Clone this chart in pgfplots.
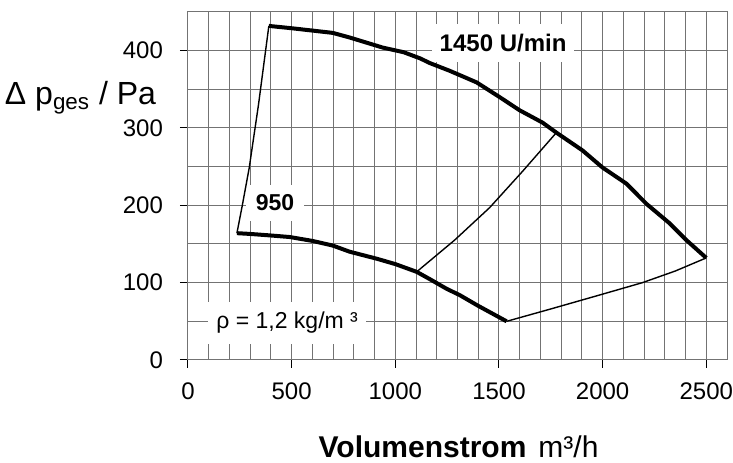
\documentclass[border=0pt]{standalone}
\usepackage{fontspec}
\setmainfont{Liberation Sans}
\usepackage{pgfplots}
\pgfplotsset{compat=1.18}

\begin{document}
\begin{tikzpicture}
\begin{axis}[
  name=ax,
  scale only axis,
  width=269.5pt, height=174pt,
  xmin=0, xmax=2600, ymin=0, ymax=450,
  xtick={0,500,...,2500}, ytick={0,100,...,400},
  minor x tick num=4, minor y tick num=1,
  grid=both,
  major grid style={black!55, line width=0.5pt},
  minor grid style={black!55, line width=0.5pt},
  axis line style={black!55, line width=0.5pt},
  tick style={black, line width=0.5pt},
  major tick length=4pt, minor tick length=0pt,
  tick align=outside,
  xtick pos=left, ytick pos=left,
  /pgf/number format/assume math mode=true,
  /pgf/number format/1000 sep={},
  ticklabel style={font=\fontsize{12}{14}\selectfont},
  xticklabel style={yshift=-4pt},
  yticklabel style={xshift=-5pt},
  clip=false,
]
% labels with white boxes
\node[fill=white, inner xsep=5pt, inner ysep=5pt,
      font=\bfseries\fontsize{11.5}{13}\selectfont] at (axis cs:420,203) {950};
\node[fill=white, inner xsep=4pt, inner ysep=5pt,
      font=\bfseries\fontsize{12}{14}\selectfont] at (axis cs:1520,410) {1450 U/min};
\node[fill=white, inner xsep=4pt, inner ysep=5pt,
      font=\fontsize{11.5}{13}\selectfont] at (axis cs:478,48) {ρ = 1,2 kg/m ³};

% 1450 U/min
\addplot[black, line width=2pt, line join=round] coordinates {
  (390,432) (500,429) (698,423) (780,417) (939,404) (1040,398) (1120,390) (1166,384)
  (1262,374) (1392,359) (1503,340) (1599,323) (1710,307) (1777,294)
  (1903,271) (1999,249) (2115,228) (2211,202) (2322,177) (2404,155) (2500,132)};
% 950 U/min
\addplot[black, line width=2pt, line join=round] coordinates {
  (236,164) (300,163) (400,161) (491,159) (600,154) (698,148) (780,140)
  (910,131) (1000,124) (1103,114) (1170,104) (1248,92) (1310,84) (1400,70) (1537,50)};
% thin lines
\addplot[black, line width=0.7pt] coordinates {
  (236,164) (262,200) (295,248) (340,330) (390,432)};
\addplot[black, line width=0.7pt] coordinates {
  (1103,114) (1286,155) (1455,197) (1614,244) (1777,294)};
\addplot[black, line width=0.7pt] coordinates {
  (1537,50) (1750,66) (1985,84) (2192,100) (2350,115) (2500,132)};

\node[anchor=base east, font=\fontsize{16}{19}\selectfont]
  at ([xshift=-12.5pt]axis cs:0,330) {Δ p\textsubscript{ges} / Pa};
\node[anchor=base, font=\fontsize{15}{18}\selectfont]
  at ([yshift=-49pt]rel axis cs:0.502,0) {\textbf{Volumenstrom}\hspace{6pt}m³/h};
\end{axis}
\pgfresetboundingbox
\path[use as bounding box] ([xshift=-94pt,yshift=-51.5pt]ax.south west)
  rectangle ([xshift=3pt,yshift=6pt]ax.north east);
\end{tikzpicture}
\end{document}
